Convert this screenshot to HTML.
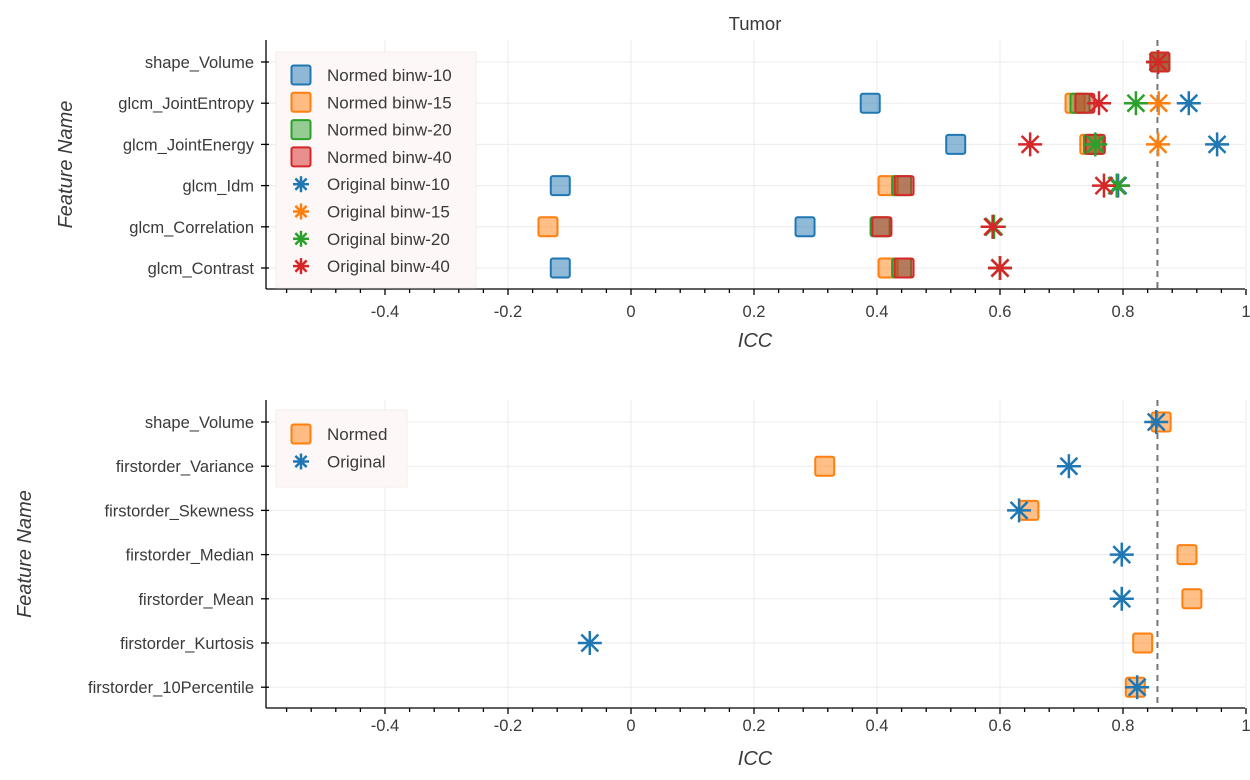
<!DOCTYPE html>
<html><head><meta charset="utf-8"><style>
body{margin:0;background:#fff;}
svg text{font-family:"Liberation Sans",sans-serif;fill:#3a3a3a;}
</style></head><body>
<svg id="chart" width="1250" height="775" xmlns="http://www.w3.org/2000/svg"></svg>
<script>
const topFeatures=["shape_Volume","glcm_JointEntropy","glcm_JointEnergy","glcm_Idm","glcm_Correlation","glcm_Contrast"];
const topSeriesNames=["Normed binw-10","Normed binw-15","Normed binw-20","Normed binw-40","Original binw-10","Original binw-15","Original binw-20","Original binw-40"];
const normed10=[0.86,0.389,0.528,-0.115,0.283,-0.115];
const normed15=[0.86,0.722,0.746,0.418,-0.135,0.418];
const normed20=[0.86,0.73,0.752,0.44,0.405,0.44];
const normed40=[0.86,0.738,0.755,0.444,0.408,0.444];
const orig10=[0.857,0.907,0.953,0.792,0.59,0.6];
const orig15=[0.857,0.858,0.857,0.79,0.59,0.6];
const orig20=[0.857,0.821,0.755,0.79,0.59,0.6];
const orig40=[0.857,0.761,0.649,0.769,0.588,0.6];
const botFeatures=["shape_Volume","firstorder_Variance","firstorder_Skewness","firstorder_Median","firstorder_Mean","firstorder_Kurtosis","firstorder_10Percentile"];
const botNormed=[0.862,0.315,0.647,0.904,0.912,0.832,0.82];
const botOriginal=[0.854,0.712,0.631,0.798,0.798,-0.067,0.823];
const xTicks=[-0.4,-0.2,0,0.2,0.4,0.6,0.8,1];
const xTickLabels=["-0.4","-0.2","0","0.2","0.4","0.6","0.8","1"];
const refLine=0.856;

const svg=document.getElementById('chart');
const NS='http://www.w3.org/2000/svg';
function mk(tag,attrs,parent){const e=document.createElementNS(NS,tag);for(const k in attrs)e.setAttribute(k,attrs[k]);(parent||svg).appendChild(e);return e;}
const colors=["#1f77b4","#ff7f0e","#2ca02c","#d62728"];
const X0=266,X1=1245;
function xs(v){return 631+v*615;}

function square(g,x,y,c){return mk('rect',{x:x-9.5,y:y-9.5,width:19,height:19,rx:2,fill:c,'fill-opacity':0.5,stroke:c,'stroke-width':2},g);}
function star(g,x,y,c,s){s=s||12;const p=mk('g',{stroke:c,'stroke-width':2.5,'stroke-linecap':'butt'},g);
 const d=s*0.7071;
 mk('line',{x1:x-s,y1:y,x2:x+s,y2:y},p);mk('line',{x1:x,y1:y-s,x2:x,y2:y+s},p);
 mk('line',{x1:x-d,y1:y-d,x2:x+d,y2:y+d},p);mk('line',{x1:x-d,y1:y+d,x2:x+d,y2:y-d},p);return p;}

function panel(name,top,bottom,feats,rowY0,rowStep,labelY,iccY){
 const g=mk('g',{});
 
 
 const grid=mk('g',{stroke:'#ebebeb','stroke-width':1},g);
 
 
 xTicks.forEach(t=>mk('line',{x1:xs(t),y1:top,x2:xs(t),y2:bottom},grid));
 feats.forEach((f,i)=>{const y=rowY0+i*rowStep;mk('line',{x1:X0,y1:y,x2:X1,y2:y},grid);});
 const ax=mk('g',{stroke:'#000','stroke-width':1.3},g);
 
 
 mk('line',{x1:X0,y1:top,x2:X0,y2:bottom},ax);
 mk('line',{x1:X0,y1:bottom,x2:X1,y2:bottom},ax);
 for(let v=-0.56;v<=1.001;v+=0.04){const x=xs(v);const major=Math.abs(v/0.2-Math.round(v/0.2))<0.01;mk('line',{x1:x,y1:bottom,x2:x,y2:bottom+(major?6:4)},ax);}
 xTicks.forEach((t,i)=>{const tx=mk('text',{x:xs(t),y:labelY,'text-anchor':'middle','font-size':16.5},g);tx.textContent=xTickLabels[i];
  
  });
 feats.forEach((f,i)=>{const y=rowY0+i*rowStep;mk('line',{x1:X0-5,y1:y,x2:X0+3,y2:y},ax);
  const tx=mk('text',{x:X0-12,y:y+6,'text-anchor':'end','font-size':16.5},g);tx.textContent=f;
  
  });
 const xt=mk('text',{x:755,y:iccY,'text-anchor':'middle','font-size':20,'font-style':'italic'},g);xt.textContent='ICC';
 
 
 const cy=(top+bottom)/2;
 const yt=mk('text',{x:0,y:0,'text-anchor':'middle','font-size':20,'font-style':'italic',transform:`translate(${name==='top-panel'?72:31},${cy}) rotate(-90)`},g);yt.textContent='Feature Name';
 
 
 mk('line',{x1:xs(refLine),y1:top,x2:xs(refLine),y2:bottom,stroke:'#777','stroke-width':2,'stroke-dasharray':'6,5'},g);
 return g;
}

const t=mk('text',{x:755,y:30,'text-anchor':'middle','font-size':18.5},svg);t.textContent='Tumor';


const gt=panel('top-panel',40,289,topFeatures,62,41.2,317,347);
const lg=mk('g',{},gt);


mk('rect',{x:276,y:52,width:200,height:236,fill:'#fdf8f7',stroke:'#f3ecea','fill-opacity':0.95},lg);
const normedTop=[normed10,normed15,normed20,normed40],origTop=[orig10,orig15,orig20,orig40];
const ptsTop=mk('g',{},gt);


normedTop.forEach((arr,s)=>arr.forEach((v,i)=>{const m=square(ptsTop,xs(v),62+i*41.2,colors[s]);
 
 }));
origTop.forEach((arr,s)=>arr.forEach((v,i)=>{const m=star(ptsTop,xs(v),62+i*41.2,colors[s]);
 
 }));
topSeriesNames.forEach((n,i)=>{const y=75+i*27.3;
 if(i<4)square(lg,301,y,colors[i]);else star(lg,301,y,colors[i-4],8);
 const tx=mk('text',{x:327,y:y+6,'font-size':17},lg);tx.textContent=n;
 
 });

const gb=panel('bottom-panel',400,708,botFeatures,422,44.2,731,765);
const lb=mk('g',{},gb);


mk('rect',{x:276,y:410,width:131,height:77,fill:'#fdf8f7',stroke:'#f3ecea'},lb);
const ptsB=mk('g',{},gb);


botNormed.forEach((v,i)=>{const m=square(ptsB,xs(v),422+i*44.2,colors[1]);
 
 });
botOriginal.forEach((v,i)=>{const m=star(ptsB,xs(v),422+i*44.2,colors[0]);
 
 });
["Normed","Original"].forEach((n,i)=>{const y=434+i*27.5;
 if(i===0)square(lb,301,y,colors[1]);else star(lb,301,y,colors[0],8);
 const tx=mk('text',{x:327,y:y+6,'font-size':17},lb);tx.textContent=n;
 
 });
</script>
</body></html>
